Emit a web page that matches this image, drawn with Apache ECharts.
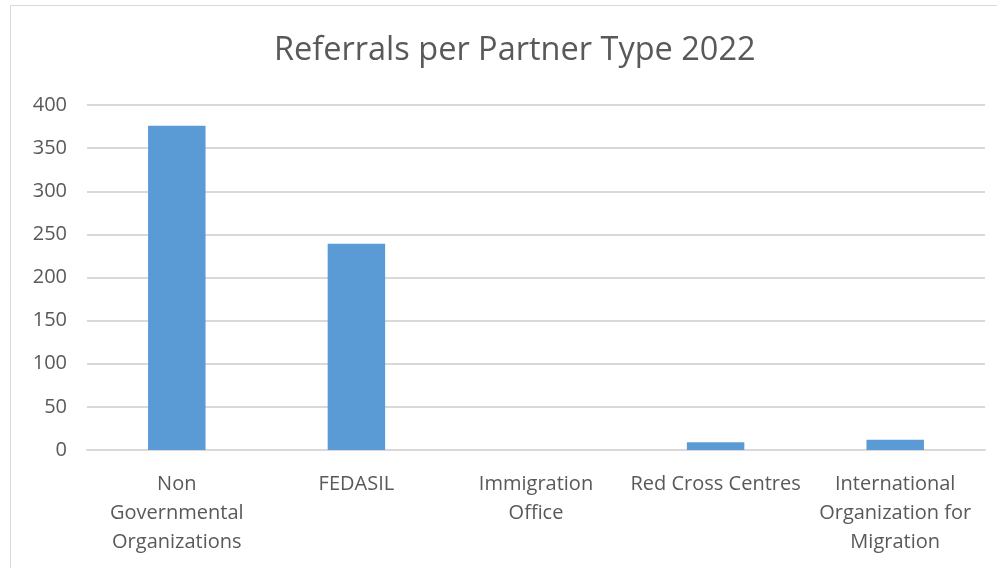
<!DOCTYPE html>
<html><head><meta charset="utf-8">
<script src="https://cdn.jsdelivr.net/npm/echarts@6/dist/echarts.min.js"></script>
<style>html,body{margin:0;padding:0;background:#fff}#c{width:997px;height:568px}</style>
</head><body><div id="c"></div>
<script>
const categories = ['Non\nGovernmental\nOrganizations', 'FEDASIL', 'Immigration\nOffice', 'Red Cross Centres', 'International\nOrganization for\nMigration'];
const referrals = [376, 239, 0, 9, 12];
const yTicks = { min: 0, max: 400, interval: 50 };
const titleText = 'Referrals per Partner Type 2022';

const font = '"Open Sans", sans-serif';
const chart = echarts.init(document.getElementById('c'));
chart.setOption({
  animation: false,
  graphic: [{ type: 'rect', shape: { x: 10.5, y: 5.5, width: 1000, height: 600 }, style: { fill: 'none', stroke: '#d9d9d9', lineWidth: 1 } }],
  title: { text: titleText, left: 269, top: 29, textStyle: { fontFamily: font, fontSize: 32.5, fontWeight: 'normal', color: '#595959' } },
  grid: { left: 87, right: 12, top: 105, bottom: 118 },
  xAxis: {
    type: 'category', data: categories,
    axisLine: { lineStyle: { color: '#d9d9d9', width: 2 } },
    axisTick: { show: false },
    axisLabel: { fontFamily: font, fontSize: 20, color: '#595959', lineHeight: 29, margin: 20, interval: 0 }
  },
  yAxis: {
    type: 'value', min: yTicks.min, max: yTicks.max, interval: yTicks.interval,
    axisLine: { show: false }, axisTick: { show: false },
    splitLine: { lineStyle: { color: '#d9d9d9', width: 2 } },
    axisLabel: { fontFamily: font, fontSize: 20, color: '#595959', margin: 20 }
  },
  series: [{ type: 'bar', data: referrals, barWidth: '32%', itemStyle: { color: '#5b9bd5', borderWidth: 0 } }]
});
</script></body></html>
